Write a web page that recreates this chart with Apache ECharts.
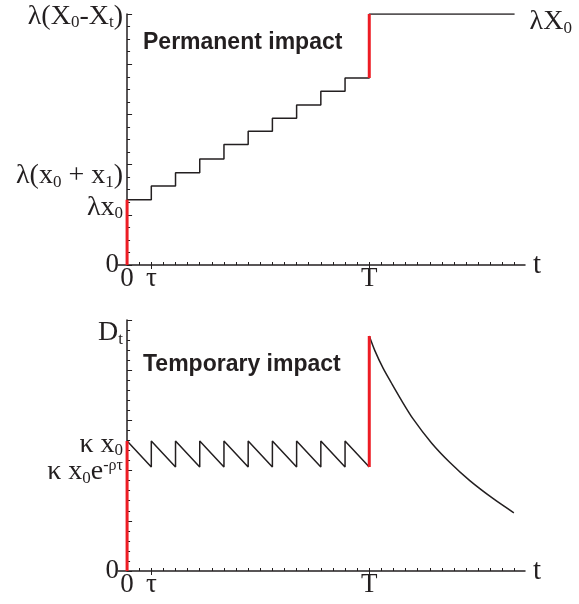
<!DOCTYPE html>
<html><head><meta charset="utf-8">
<script src="https://cdn.jsdelivr.net/npm/echarts@6/dist/echarts.min.js"></script>
<style>html,body{margin:0;padding:0;background:#fff}#c{width:579px;height:604px}</style>
</head><body><div id="c"></div>
<script>
// Time measured in units of tau; T = 10 tau
const stepTimes = [0, 1, 2, 3, 4, 5, 6, 7, 8, 9, 10, 16];
const permanentLevels = [5.2, 6.3, 7.35, 8.45, 9.6, 10.65, 11.7, 12.75, 13.85, 14.9, 20, 20];

const sawTimes = [0, 1, 1, 2, 2, 3, 3, 4, 4, 5, 5, 6, 6, 7, 7, 8, 8, 9, 9, 10];
const sawValues = [12.95, 10.35, 12.95, 10.35, 12.95, 10.35, 12.95, 10.35, 12.95, 10.35,
                   12.95, 10.35, 12.95, 10.35, 12.95, 10.35, 12.95, 10.35, 12.95, 10.35];

const decayTimes = [10, 10.23, 10.57, 10.92, 11.33, 11.81, 12.57, 13.33, 14.15, 15.12, 15.97];
const decayValues = [23.4, 21.95, 20.2, 18.7, 17.0, 15.15, 12.75, 10.8, 9.0, 7.2, 5.8];

// tick labels
const xLabelValues = [0, 1, 10];
const xLabels = ['0', 'τ', 'T'];
const topYLabelValues = [0, 4.6, 7.1, 19.8];
const topYLabels = ['{z|0}', '{m|λx}{s|0}', '{m|λ(x}{s|0}{m| + x}{s|1}{m|)}', '{m|λ(X}{s|0}{m|-X}{s|t}{m|)}'];
const botYLabelValues = [0, 9.9, 12.6, 23.7];
const botYLabels = ['{z|0}', '{m|κ x}{s|0}{m|e}{p|-ρτ}', '{m|κ x}{s|0}', '{m|D}{s|t}'];
const endLabel = '{m|λX}{s|0}';

const INK = '#231f20', RED = '#ed1c24';
const SERIF = 'Liberation Serif';
const xMin = -0.375, xMax = 16.43;
const minorX = [];
for (let v = 0; v <= 16; v += 0.5) minorX.push(v);

const rich = {
  m: {fontFamily: SERIF, fontSize: 28, color: INK},
  z: {fontFamily: SERIF, fontSize: 27, color: INK, padding: [0, 4, 0, 0]},
  s: {fontFamily: SERIF, fontSize: 17, color: INK, padding: [13, 0, 0, 0]},
  p: {fontFamily: SERIF, fontSize: 16, color: INK, padding: [0, 0, 12, 0]}
};

function xAxisPair(grid) {
  return [{
    type: 'value', gridIndex: grid, min: xMin, max: xMax, position: 'bottom',
    name: 't', nameLocation: 'end', nameGap: 8,
    nameTextStyle: {fontFamily: SERIF, fontSize: 29, color: INK},
    axisLine: {lineStyle: {color: INK, width: 1.5}},
    axisTick: {customValues: minorX, inside: true, length: 3, lineStyle: {color: INK, width: 1}},
    axisLabel: {customValues: xLabelValues, margin: 0, fontFamily: SERIF, fontSize: 27, color: INK,
      formatter: v => xLabels[xLabelValues.indexOf(v)]},
    splitLine: {show: false}
  }, {
    type: 'value', gridIndex: grid, min: xMin, max: xMax, position: 'bottom',
    axisLine: {show: false},
    axisTick: {customValues: [1, 10], inside: false, length: 4, lineStyle: {color: INK, width: 1}},
    axisLabel: {show: false}, splitLine: {show: false}
  }];
}

function yAxis(grid, max, interval, split, values, labels) {
  return {
    type: 'value', gridIndex: grid, min: 0, max: max, interval: interval,
    axisLine: {onZero: true, lineStyle: {color: INK, width: 1.5}},
    axisTick: {inside: true, length: 5, lineStyle: {color: INK, width: 1}},
    minorTick: {show: true, splitNumber: split, length: 3, lineStyle: {color: INK, width: 1}},
    axisLabel: {customValues: values, margin: -5, rich: rich,
      formatter: v => labels[values.indexOf(v)]},
    splitLine: {show: false}, minorSplitLine: {show: false}
  };
}

const zip = (xs, ys) => xs.map((x, i) => [x, ys[i]]);
const blackLine = {color: INK, width: 1.5};
const redLine = {color: RED, width: 3};

const option = {
  animation: false,
  backgroundColor: '#fff',
  title: [
    {text: 'Permanent impact', left: 143, top: 31, padding: 0,
     textStyle: {fontFamily: 'Liberation Sans', fontWeight: 'bold', fontSize: 23, color: INK}},
    {text: 'Temporary impact', left: 143, top: 353, padding: 0,
     textStyle: {fontFamily: 'Liberation Sans', fontWeight: 'bold', fontSize: 23, color: INK}}
  ],
  grid: [
    {left: 118, right: 54, top: 14, bottom: 339},
    {left: 118, right: 54, top: 320, bottom: 33}
  ],
  xAxis: [...xAxisPair(0), ...xAxisPair(1)],
  yAxis: [
    yAxis(0, 20, 4, 4, topYLabelValues, topYLabels),
    yAxis(1, 25, 5, 5, botYLabelValues, botYLabels)
  ],
  series: [
    {type: 'line', xAxisIndex: 0, yAxisIndex: 0, step: 'end', symbol: 'none',
     data: zip(stepTimes, permanentLevels), lineStyle: blackLine,
     endLabel: {show: true, distance: 15, offset: [0, 8], formatter: () => endLabel, rich: rich}},
    {type: 'line', xAxisIndex: 0, yAxisIndex: 0, symbol: 'none', lineStyle: redLine,
     data: [[stepTimes[0], 0], [stepTimes[0], permanentLevels[0]]]},
    {type: 'line', xAxisIndex: 0, yAxisIndex: 0, symbol: 'none', lineStyle: redLine,
     data: [[stepTimes[10], permanentLevels[9]], [stepTimes[10], permanentLevels[10]]]},
    {type: 'line', xAxisIndex: 2, yAxisIndex: 1, symbol: 'none', data: zip(sawTimes, sawValues), lineStyle: blackLine},
    {type: 'line', xAxisIndex: 2, yAxisIndex: 1, symbol: 'none', data: zip(decayTimes, decayValues),
     lineStyle: blackLine, smooth: 0.3},
    {type: 'line', xAxisIndex: 2, yAxisIndex: 1, symbol: 'none', lineStyle: redLine,
     data: [[sawTimes[0], 0], [sawTimes[0], sawValues[0]]]},
    {type: 'line', xAxisIndex: 2, yAxisIndex: 1, symbol: 'none', lineStyle: redLine,
     data: [[decayTimes[0], sawValues[sawValues.length - 1]], [decayTimes[0], decayValues[0]]]}
  ]
};
echarts.init(document.getElementById('c')).setOption(option);
</script></body></html>
